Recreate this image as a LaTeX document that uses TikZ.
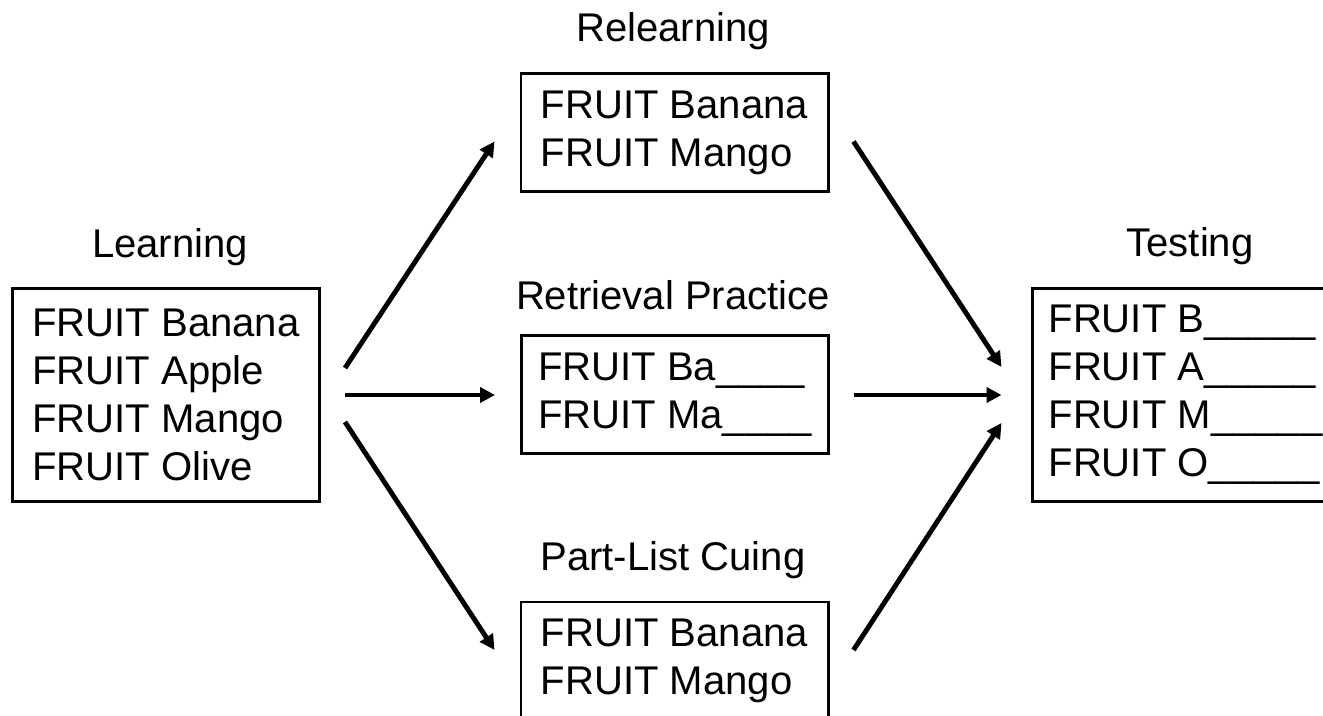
\documentclass[tikz,border=0pt]{standalone}
\usepackage{fontspec}
\setmainfont{Liberation Sans}
\usetikzlibrary{arrows.meta}

\begin{document}
\begin{tikzpicture}
\tikzstyle{box} = [draw=black, line width=1.7pt, align=left, minimum width=6.14cm, minimum height=2.36cm, font=\fontsize{22.8}{27.3}\selectfont]
\tikzstyle{heading} = [font=\fontsize{22.8}{27.3}\selectfont]
\tikzstyle{edge} = [-{Triangle[length=0.3cm, width=0.3cm]}, line width=2.8pt]
\clip (0, 0) rectangle (26.46, 14.32);
\node[box, minimum height=4.26cm] (learn) at (3.32, 6.42) {FRUIT Banana\\FRUIT Apple\\FRUIT Mango\\FRUIT Olive};
\node[box] (relearn) at (13.49, 11.67) {FRUIT Banana\\FRUIT Mango};
\node[box] (retrieve) at (13.50, 6.42) {FRUIT Ba\_\_\_\_\\FRUIT Ma\_\_\_\_};
\node[box] (partlist) at (13.49, 1.10) {FRUIT Banana\\FRUIT Mango};
\node[box, minimum height=4.26cm] (test) at (23.71, 6.42) {FRUIT B\_\_\_\_\_\\FRUIT A\_\_\_\_\_\\FRUIT M\_\_\_\_\_\\FRUIT O\_\_\_\_\_};
\node[heading] (learnlbl) at (3.40, 9.37) {Learning};
\node[heading] (relearnlbl) at (13.46, 13.69) {Relearning};
\node[heading] (retrievelbl) at (13.46, 8.41) {Retrieval Practice};
\node[heading] (partlistlbl) at (13.46, 3.11) {Part-List Cuing};
\node[heading] (testlbl) at (23.80, 9.39) {Testing};
\draw[edge] ([shift={(0.48, 0.54)}]learn.east) -- ([shift={(-0.50, -0.18)}]relearn.west);
\draw[edge] ([shift={(0.48, 0)}]learn.east) -- ([shift={(-0.50, 0)}]retrieve.west);
\draw[edge] ([shift={(0.48, -0.54)}]learn.east) -- ([shift={(-0.50, 0.22)}]partlist.west);
\draw[edge] ([shift={(0.48, -0.18)}]relearn.east) -- ([shift={(-0.58, 0.56)}]test.west);
\draw[edge] ([shift={(0.48, 0)}]retrieve.east) -- ([shift={(-0.58, 0)}]test.west);
\draw[edge] ([shift={(0.48, 0.22)}]partlist.east) -- ([shift={(-0.58, -0.56)}]test.west);
\end{tikzpicture}
\end{document}
